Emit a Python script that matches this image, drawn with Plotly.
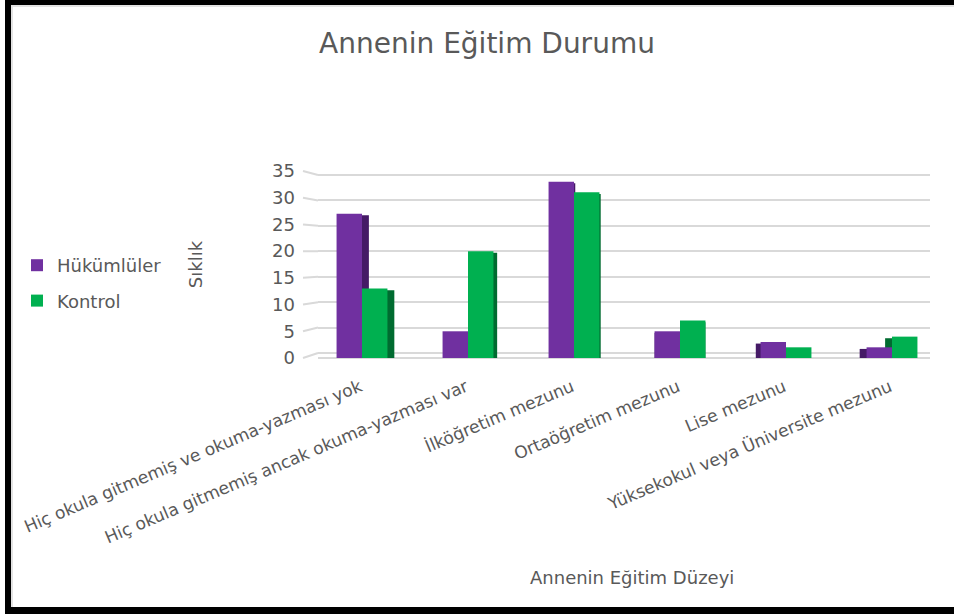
import plotly.graph_objects as go

categories = [
    "Hiç okula gitmemiş ve okuma-yazması yok",
    "Hiç okula gitmemiş ancak okuma-yazması var",
    "İlköğretim mezunu",
    "Ortaöğretim mezunu",
    "Lise mezunu",
    "Yüksekokul veya Üniversite mezunu",
]
hukumluler = [27, 5, 33, 5, 3, 2]
kontrol = [13, 20, 31, 7, 2, 4]
y_ticks = [0, 5, 10, 15, 20, 25, 30, 35]

W, H = 954, 614
L, R, T, B = 318, 24, 171, 256
PW, PH = W - L - R, H - T - B
Y_MAX = 35

def px(x):
    return (x - L) / PW

def py(y):
    return (H - B - y) / PH

# back-wall (perspective) scale for gridlines: 0 -> 353px, 35 -> 175px
BACK0, BACK35 = 353, 175
back_per = (BACK0 - BACK35) / Y_MAX
y2_range = [-(H - B - BACK0) / back_per, (BACK0 - T) / back_per]

FONT = "DejaVu Sans"
GRAY = "#595959"
GRID = "#d9d9d9"
PURPLE, PURPLE_D = "#7030A0", "#451a66"
GREEN, GREEN_D = "#00B050", "#006b30"

BW = 0.24                       # bar width (category units)
SIDE = [0.065, 0.035, 0.012, 0.0, -0.045, -0.065]   # perspective side-face shift

fig = go.Figure()
# carrier for the back-wall gridline axis (draws nothing)
fig.add_trace(go.Scatter(x=categories, y=kontrol, yaxis="y2", mode="none",
                         showlegend=False, hoverinfo="skip"))
fig.add_trace(go.Bar(x=categories, y=[v - 0.3 for v in hukumluler], width=BW,
                     offset=[-BW + s for s in SIDE], marker=dict(color=PURPLE_D, line=dict(width=0)),
                     showlegend=False, hoverinfo="skip"))
fig.add_trace(go.Bar(x=categories, y=[v - 0.3 for v in kontrol], width=BW,
                     offset=[0 + s for s in SIDE], marker=dict(color=GREEN_D, line=dict(width=0)),
                     showlegend=False, hoverinfo="skip"))
fig.add_trace(go.Bar(name="Hükümlüler", x=categories, y=hukumluler, width=BW, offset=-BW,
                     marker=dict(color=PURPLE, line=dict(width=0)), legendgroup="a"))
fig.add_trace(go.Bar(name="Kontrol", x=categories, y=kontrol, width=BW, offset=0,
                     marker=dict(color=GREEN, line=dict(width=0)), legendgroup="b"))

# side-wall slanted grid segments, from the tick label position to the back wall
front_per = PH / Y_MAX
shapes = []
for v in y_ticks:
    yf = H - B - v * front_per
    yb = BACK0 - v * back_per
    shapes.append(dict(type="line", xref="paper", yref="paper",
                       x0=px(303), y0=py(yf), x1=px(L), y1=py(yb),
                       line=dict(color=GRID, width=2), layer="below"))

shapes += [
    dict(type="rect", xref="paper", yref="paper", x0=px(11), x1=px(954), y0=py(5), y1=py(7),
         fillcolor="#e3e3e3", line=dict(width=0), layer="above"),
    dict(type="rect", xref="paper", yref="paper", x0=px(11), x1=px(13), y0=py(5), y1=py(607),
         fillcolor="#e3e3e3", line=dict(width=0), layer="above"),
    dict(type="rect", xref="paper", yref="paper", x0=px(5), x1=px(954), y0=py(0), y1=py(5),
         fillcolor="black", line=dict(width=0), layer="above"),
    dict(type="rect", xref="paper", yref="paper", x0=px(5), x1=px(11), y0=py(0), y1=py(614),
         fillcolor="black", line=dict(width=0), layer="above"),
    dict(type="rect", xref="paper", yref="paper", x0=px(5), x1=px(954), y0=py(607), y1=py(614),
         fillcolor="black", line=dict(width=0), layer="above"),
]

fig.update_layout(
    width=W, height=H,
    margin=dict(l=L, r=R, t=T, b=B, autoexpand=False),
    paper_bgcolor="white", plot_bgcolor="white",
    font=dict(family=FONT, color=GRAY, size=16),
    title=dict(text="Annenin Eğitim Durumu", xref="container", x=487 / W, xanchor="center",
               yref="container", y=1 - 43 / H, yanchor="middle",
               font=dict(size=28, color=GRAY, family=FONT)),
    barmode="overlay",
    showlegend=True,
    legend=dict(x=px(17), xanchor="left", y=py(283), yanchor="middle",
                font=dict(size=18, color=GRAY, family=FONT),
                traceorder="grouped", tracegroupgap=9, bgcolor="rgba(0,0,0,0)"),
    xaxis=dict(range=[(L - 362) / 106, (W - R - 362) / 106], tickangle=-23,
               showgrid=False, zeroline=False, showline=False, ticks="",
               ticklabelstandoff=15, ticklabelshift=-2,
               tickfont=dict(size=17.1, color=GRAY), automargin=False),
    yaxis=dict(range=[0, Y_MAX], tickvals=y_ticks, showgrid=False,
               zeroline=True, zerolinecolor=GRID, zerolinewidth=2,
               ticks="", ticklabelstandoff=22, tickfont=dict(size=18, color=GRAY),
               title=dict(text="Sıklık", standoff=64, font=dict(size=18, color=GRAY)),
               automargin=False),
    yaxis2=dict(range=y2_range, overlaying="y", anchor="x", side="left",
                tickvals=y_ticks, showticklabels=False, ticks="",
                showgrid=True, gridcolor=GRID, gridwidth=2, zeroline=False,
                showline=False, automargin=False),
    annotations=[dict(text="Annenin Eğitim Düzeyi", xref="paper", yref="paper",
                      x=px(632), y=py(577), xanchor="center", yanchor="middle",
                      showarrow=False, font=dict(size=18, color=GRAY, family=FONT))],
    shapes=shapes,
)

fig.write_html("out.html", config={"displayModeBar": False},
               post_script="document.body.style.margin='0';")
